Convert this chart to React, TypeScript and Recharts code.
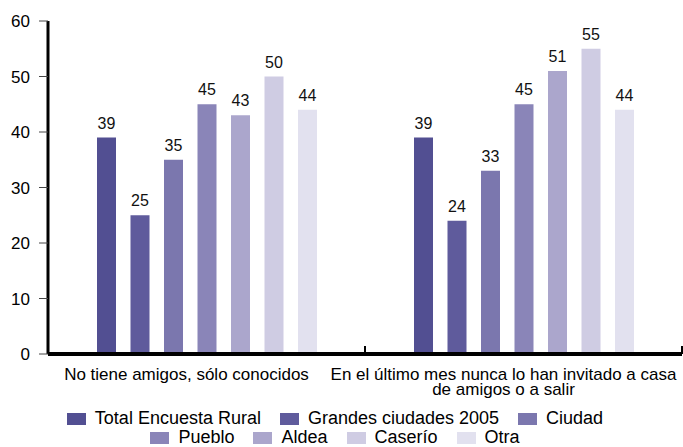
import React from "react";
import { BarChart, Bar, XAxis, YAxis, Legend, LabelList } from "recharts";

const CATEGORY_LINES: string[][] = [
  ["No tiene amigos, sólo conocidos"],
  ["En el último mes nunca lo han invitado a casa", "de amigos o a salir"],
];
const categories = CATEGORY_LINES.map((l) => l.join(" "));

const seriesNames = [
  "Total Encuesta Rural",
  "Grandes ciudades 2005",
  "Ciudad",
  "Pueblo",
  "Aldea",
  "Caserío",
  "Otra",
];
const totalEncuestaRural = [39, 39];
const grandesCiudades2005 = [25, 24];
const ciudad = [35, 33];
const pueblo = [45, 45];
const aldea = [43, 51];
const caserio = [50, 55];
const otra = [44, 44];
const yTicks = [0, 10, 20, 30, 40, 50, 60];

const seriesValues = [
  totalEncuestaRural,
  grandesCiudades2005,
  ciudad,
  pueblo,
  aldea,
  caserio,
  otra,
];
const colors = ["#524f92", "#5f5b9c", "#7b77ae", "#8a85b8", "#aba6cc", "#cfcce3", "#e2e1ef"];

const data = categories.map((c, i) => {
  const row: Record<string, string | number> = { category: c };
  seriesNames.forEach((s, k) => {
    row[s] = seriesValues[k][i];
  });
  return row;
});

const W = 683;
const H = 447;
const LEFT = 48;
const RIGHT = 1;
const PLOT_W = W - LEFT - RIGHT;

const CategoryTick = (props: any) => {
  const { x, y, index } = props;
  const lines = CATEGORY_LINES[index] || [];
  const half = PLOT_W / categories.length / 2;
  const tx = x - 20;
  return (
    <g>
      <line x1={x + half} x2={x + half} y1={y - 8} y2={y} stroke="#000" strokeWidth={2} />
      <text x={tx} y={y + 26} textAnchor="middle" fontSize={17} fill="#000">
        {lines.map((l, i) => (
          <tspan key={i} x={tx} dy={i === 0 ? 0 : 15}>
            {l}
          </tspan>
        ))}
      </text>
    </g>
  );
};

const LegendContent = (props: any) => {
  const payload = [...(props.payload || [])].sort(
    (a: any, b: any) => seriesNames.indexOf(a.value) - seriesNames.indexOf(b.value)
  );
  return (
    <div
      style={{
        display: "flex",
        flexWrap: "wrap",
        justifyContent: "center",
        columnGap: 19,
        width: 580,
        fontSize: 18,
        lineHeight: "19px",
        color: "#000",
      }}
    >
      {payload.map((p: any, i: number) => (
        <span key={i} style={{ display: "flex", alignItems: "center", whiteSpace: "nowrap" }}>
          <span style={{ display: "inline-block", width: 19, height: 12, background: p.color, marginRight: 9 }} />
          {p.value}
        </span>
      ))}
    </div>
  );
};

export default function App() {
  return (
    <div style={{ position: "absolute", left: 0, top: 0, fontFamily: "'Liberation Sans', Arial, Helvetica, sans-serif" }}>
      <BarChart
        width={W}
        height={H}
        data={data}
        margin={{ top: 21, right: RIGHT, bottom: 0, left: 0 }}
        barSize={19}
        barGap={14.5}
      >
        <XAxis
          dataKey="category"
          height={93}
          axisLine={{ stroke: "#000", strokeWidth: 4 }}
          tickLine={false}
          tickSize={0}
          tickMargin={0}
          interval={0}
          tick={<CategoryTick />}
        />
        <YAxis
          width={LEFT}
          domain={[0, 60]}
          ticks={yTicks}
          interval={0}
          axisLine={{ stroke: "#000", strokeWidth: 3 }}
          tickLine={{ stroke: "#444", strokeWidth: 1 }}
          tickSize={9}
          tickMargin={9}
          tick={{ fill: "#000", fontSize: 17 }}
        />
        <Legend
          layout="horizontal"
          verticalAlign="middle"
          align="center"
          itemSorter={null as any}
          content={<LegendContent />}
          wrapperStyle={{ top: 409, left: 45, width: 580, height: 38 }}
        />
        {seriesNames.map((s, k) => (
          <Bar key={s} dataKey={s} fill={colors[k]} isAnimationActive={false}>
            <LabelList dataKey={s} position="top" offset={9} fill="#111" fontSize={16} />
          </Bar>
        ))}
      </BarChart>
    </div>
  );
}
